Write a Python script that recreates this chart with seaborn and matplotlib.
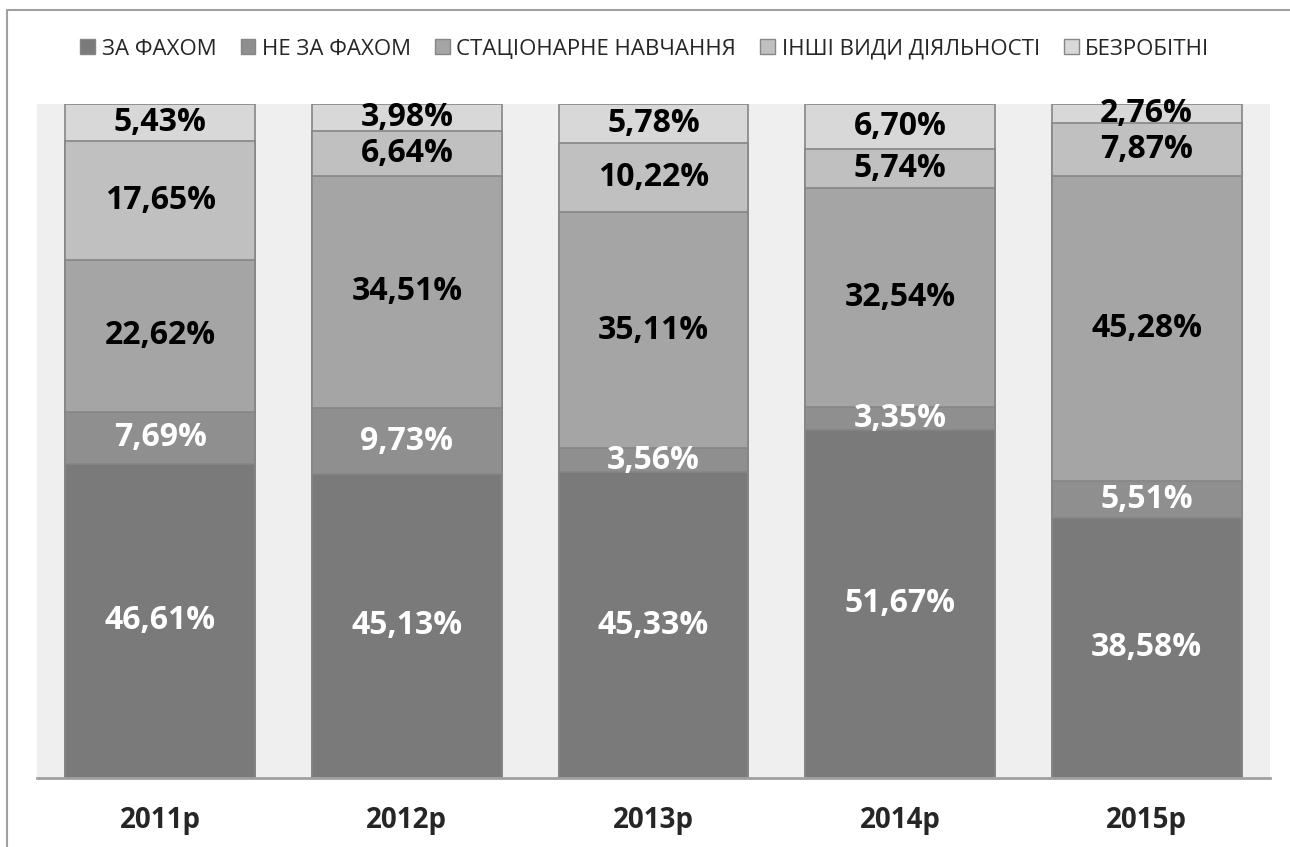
import pandas as pd
import numpy as np
import matplotlib.pyplot as plt
import seaborn as sns
from matplotlib.patches import Patch
from matplotlib.lines import Line2D

# Дані
years = ['2011р', '2012р', '2013р', '2014р', '2015р']
categories = ['ЗА ФАХОМ', 'НЕ ЗА ФАХОМ', 'СТАЦІОНАРНЕ НАВЧАННЯ', 'ІНШІ ВИДИ ДІЯЛЬНОСТІ', 'БЕЗРОБІТНІ']
za_fakhom = [46.61, 45.13, 45.33, 51.67, 38.58]
ne_za_fakhom = [7.69, 9.73, 3.56, 3.35, 5.51]
statsionarne = [22.62, 34.51, 35.11, 32.54, 45.28]
inshi = [17.65, 6.64, 10.22, 5.74, 7.87]
bezrobitni = [5.43, 3.98, 5.78, 6.70, 2.76]

colors = ['#7a7a7a', '#8f8f8f', '#a5a5a5', '#c0c0c0', '#d8d8d8']
label_colors = ['white', 'white', 'black', 'black', 'black']

values = np.array([za_fakhom, ne_za_fakhom, statsionarne, inshi, bezrobitni])
cum = values.cumsum(axis=0)

sns.set_style('white')
plt.rcParams['font.family'] = ['Open Sans', 'DejaVu Sans']

fig = plt.figure(figsize=(12.9, 8.47), dpi=100)
ax = fig.add_axes([0.0287, 0.0815, 0.9558, 0.7957])
ax.set_facecolor('#efefef')

# Накопичені стовпці: від найвищого до найнижчого
for i in range(len(categories) - 1, -1, -1):
    df = pd.DataFrame({'year': years, 'value': cum[i]})
    sns.barplot(data=df, x='year', y='value', color=colors[i], width=0.77,
                edgecolor='#868686', linewidth=1.2, saturation=1, ax=ax)

# Підписи
for i in range(len(categories)):
    for j in range(len(years)):
        y = cum[i, j] - values[i, j] / 2
        txt = f'{values[i, j]:.2f}%'.replace('.', ',')
        ax.text(j, y, txt, ha='center', va='center', fontsize=23,
                fontweight='bold', color=label_colors[i])

ax.set_ylim(0, 100)
ax.set_xlim(-0.5, 4.5)
ax.set_xlabel('')
ax.set_ylabel('')
ax.set_yticks([])
ax.tick_params(axis='x', length=0, pad=20)
for lbl in ax.get_xticklabels():
    lbl.set_fontsize(20)
    lbl.set_fontweight('bold')
for s in ['top', 'left', 'right']:
    ax.spines[s].set_visible(False)
ax.spines['bottom'].set_color('#a0a0a0')
ax.spines['bottom'].set_linewidth(2)

handles = [Patch(facecolor=colors[i], edgecolor='#868686', label=categories[i])
           for i in range(len(categories))]
fig.legend(handles=handles, loc='center', bbox_to_anchor=(0.5, 0.942), ncol=5,
           frameon=False, fontsize=16, handlelength=0.65, handleheight=0.65,
           handletextpad=0.3, columnspacing=1.1)

# Рамка
fig.add_artist(Line2D([0.0054, 0.0054], [0, 0.988], color='#a0a0a0', lw=1.5, transform=fig.transFigure))
fig.add_artist(Line2D([0.0054, 1], [0.988, 0.988], color='#a0a0a0', lw=1.5, transform=fig.transFigure))

fig.savefig('out.png', dpi=100)
